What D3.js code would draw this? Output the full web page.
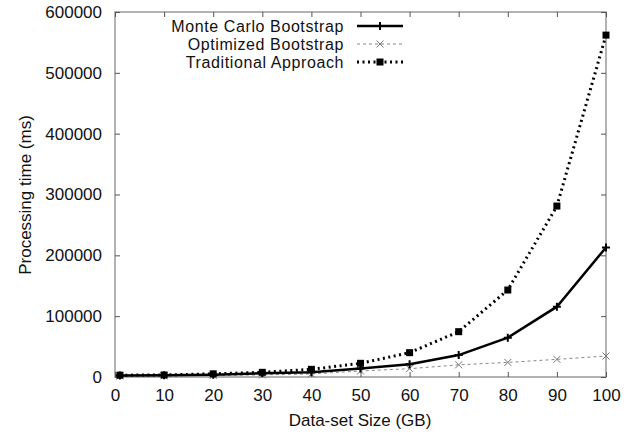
<!DOCTYPE html>
<html><head><meta charset="utf-8">
<script src="https://cdn.jsdelivr.net/npm/d3@7"></script>
<style>body{margin:0;background:#fff}svg{display:block}text{font-family:"Liberation Sans",Arial,sans-serif}</style>
</head><body>
<svg id="c" width="633" height="435"></svg>
<script>
const sizes = [1, 10, 20, 30, 40, 50, 60, 70, 80, 90, 100];
const monteCarlo = [2500, 2800, 3800, 6000, 7700, 14000, 21000, 36000, 64600, 115600, 213000];
const optimized = [1500, 2000, 2500, 3500, 5000, 9900, 13700, 20000, 24000, 29000, 34500];
const traditional = [3000, 3300, 5200, 7700, 12600, 22500, 40000, 74500, 143000, 281000, 562000];
const seriesNames = ["Monte Carlo Bootstrap", "Optimized Bootstrap", "Traditional Approach"];
const xTicks = [0, 10, 20, 30, 40, 50, 60, 70, 80, 90, 100];
const yTicks = [0, 100000, 200000, 300000, 400000, 500000, 600000];

const svg = d3.select("#c");
const L = 115, R = 606, T = 12, B = 377;
const FS = 17;
const x = d3.scaleLinear().domain([0, 100]).range([L, R]);
const y = d3.scaleLinear().domain([0, 600000]).range([B, T]);
const borderCol = "#999";
const tickCol = "#555";

svg.append("rect").attr("x", L).attr("y", T).attr("width", R - L).attr("height", B - T)
  .attr("fill", "none").attr("stroke", borderCol).attr("stroke-width", 1.5);

const fmt = d3.format("d");
const gx = svg.append("g").attr("transform", `translate(0,${B})`)
  .call(d3.axisBottom(x).tickValues(xTicks).tickFormat(fmt).tickSize(-5).tickPadding(12));
const gxT = svg.append("g").attr("transform", `translate(0,${T})`)
  .call(d3.axisTop(x).tickValues(xTicks).tickFormat("").tickSize(-5));
const gy = svg.append("g").attr("transform", `translate(${L},0)`)
  .call(d3.axisLeft(y).tickValues(yTicks).tickFormat(fmt).tickSize(-5).tickPadding(13));
const gyR = svg.append("g").attr("transform", `translate(${R},0)`)
  .call(d3.axisRight(y).tickValues(yTicks).tickFormat("").tickSize(-5));
[gx, gxT, gy, gyR].forEach(g => {
  g.select(".domain").remove();
  g.selectAll(".tick line").attr("stroke", tickCol).attr("stroke-width", 1);
  g.selectAll("text").attr("font-size", FS).attr("fill", "#111");
});

svg.append("text").attr("x", 360).attr("y", 426).attr("text-anchor", "middle")
  .attr("font-size", FS).attr("fill", "#111").text("Data-set Size (GB)");
svg.append("text").attr("transform", "translate(31,195) rotate(-90)").attr("text-anchor", "middle")
  .attr("font-size", FS).attr("fill", "#111").text("Processing time (ms)");

const line = d3.line().x((d, i) => x(sizes[i])).y(d => y(d));

const styles = [
  {data: monteCarlo, stroke: "#000", width: 2.5, dash: null, marker: "plus"},
  {data: optimized, stroke: "#888", width: 1, dash: "3,3", marker: "x"},
  {data: traditional, stroke: "#000", width: 3, dash: "2,3.5", marker: "square"}
];

function drawMarker(g, type, cx, cy) {
  if (type === "plus") {
    g.append("path").attr("d", `M${cx},${cy-4}V${cy+4}M${cx-4},${cy}H${cx+4}`)
      .attr("stroke", "#000").attr("stroke-width", 2);
  } else if (type === "x") {
    g.append("path").attr("d", `M${cx-3.5},${cy-3.5}L${cx+3.5},${cy+3.5}M${cx-3.5},${cy+3.5}L${cx+3.5},${cy-3.5}`)
      .attr("stroke", "#777").attr("stroke-width", 1);
  } else {
    g.append("rect").attr("x", cx - 3.5).attr("y", cy - 3.5).attr("width", 7).attr("height", 7).attr("fill", "#000");
  }
}

[1, 0, 2].forEach(k => {
  const s = styles[k];
  const g = svg.append("g");
  g.append("path").attr("d", line(s.data)).attr("fill", "none").attr("stroke", s.stroke)
    .attr("stroke-width", s.width).attr("stroke-dasharray", s.dash);
  s.data.forEach((d, i) => drawMarker(g, s.marker, x(sizes[i]), y(d)));
});

const legY = [26, 44, 62];
styles.forEach((s, k) => {
  const g = svg.append("g");
  g.append("text").attr("x", 344).attr("y", legY[k]).attr("dy", "0.35em").attr("text-anchor", "end")
    .attr("font-size", 16).attr("letter-spacing", 0.6).attr("fill", "#111").text(seriesNames[k]);
  g.append("line").attr("x1", 357).attr("x2", 403).attr("y1", legY[k]).attr("y2", legY[k])
    .attr("stroke", s.stroke).attr("stroke-width", s.width).attr("stroke-dasharray", s.dash);
  drawMarker(g, s.marker, 380, legY[k]);
});
</script>
</body></html>
